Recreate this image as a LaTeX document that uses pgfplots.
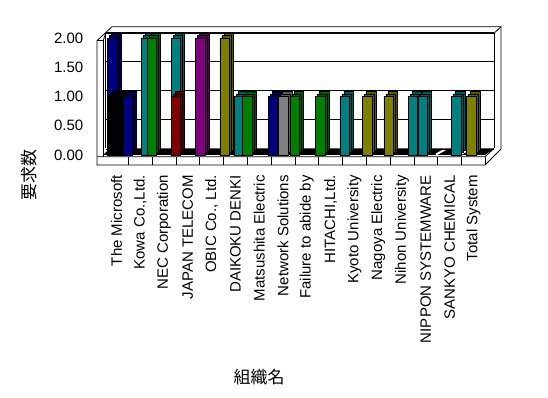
\documentclass[border=0pt]{standalone}
\usepackage{pgfplots}
\pgfplotsset{compat=1.18}
\usepackage{fontspec}
\setmainfont{Liberation Sans}
\newfontfamily\cjk{Noto Sans CJK JP}
\definecolor{cnavy}{HTML}{000080}
\definecolor{cteal}{HTML}{008080}
\definecolor{cgreen}{HTML}{008000}
\definecolor{cred}{HTML}{800000}
\definecolor{cpurple}{HTML}{800080}
\definecolor{colive}{HTML}{808000}
\definecolor{cgray}{HTML}{808080}
\pgfplotsset{b3d/.style={ybar, bar shift=0pt, bar width=9.5pt, fill=#1, draw=black, line width=0.7pt,
  preaction={fill=#1!70!black, draw=black, line width=0.7pt, transform canvas={shift={(4pt,5pt)}}},
  preaction={fill=#1!70!black, transform canvas={shift={(2pt,2.5pt)}}}}}
\begin{document}
\begin{tikzpicture}[x=1pt,y=1pt]
\path[use as bounding box] (-97,-243) rectangle (451,155);
% walls and floor
\filldraw[fill=white, draw=black, line width=0.8pt] (0,114.3) -- (15,128.3) -- (404,128.3) -- (404,6) -- (388,-10) -- (0,-10) -- cycle;
\draw[line width=0.8pt] (8.5,6.5) -- (8.5,121.7) -- (397,121.7) -- (397,6.5);
\draw[line width=0.8pt] (397,121.7) -- (404,128.3);
\draw[line width=0.8pt] (0,114.3) -- (6.3,114.3) -- (6.3,-1.7);
\draw[line width=0.8pt] (6.3,114.3) -- (8.5,121.7);
\draw[line width=0.8pt] (0,-1.7) -- (388,-1.7) -- (397,6.5);
\fill[black] (6,0) -- (388,0) -- (397,6.5) -- (13,6.5) -- cycle;
\foreach \k in {0,...,14} {
  \draw[white, line width=2pt] ({31.3+23.8*\k-1.6},0.5) -- ({31.3+23.8*\k+7.4},5.5);
}
\foreach \k in {0,...,15} {
  \draw[line width=0.8pt] ({31.3+23.8*\k},-1.7) -- ({31.3+23.8*\k},-10);
}
\begin{axis}[
  at={(0,0)}, anchor=south west,
  x=23.8pt, y=58.5pt,
  xmin=-0.815, xmax=15.5, ymin=0, ymax=2,
  clip=false,
  axis line style={draw=none},
  major tick length=0pt,
  xtick={0,...,15},
  xticklabels={The Microsoft, {Kowa Co.,Ltd.}, NEC Corporation, JAPAN TELECOM, {OBIC Co., Ltd.}, DAIKOKU DENKI, Matsushita Electric, Network Solutions, Failure to abide by, {HITACHI,Ltd.}, Kyoto University, Nagoya Electric, Nihon University, NIPPON SYSTEMWARE, SANKYO CHEMICAL, Total System},
  xticklabel style={rotate=90, anchor=east, inner sep=0pt, font=\fontsize{15}{18}\selectfont},
  xticklabel shift=20pt,
  ytick={0,0.5,1,1.5,2},
  yticklabel style={anchor=east, inner sep=0pt, font=\fontsize{15}{18}\selectfont, /pgf/number format/.cd, fixed, fixed zerofill, precision=2, assume math mode=true},
  yticklabel shift=13.5pt,
  ymajorgrids, grid style={black, line width=0.8pt, xshift=8.5pt, yshift=6pt},
]
\addplot[b3d=cnavy, bar width=10pt] coordinates {(-0.172,2)};
\addplot[b3d=black, bar width=16pt] coordinates {(-0.046,1)};
\addplot[b3d=cnavy] coordinates {(0.487,1) (6.571,1)};
\addplot[b3d=cteal] coordinates {(1.244,2) (2.498,2) (5.172,1) (9.590,1) (12.483,1) (12.861,1) (14.284,1)};
\addplot[b3d=cred] coordinates {(2.498,1)};
\addplot[b3d=cpurple] coordinates {(3.534,2)};
\addplot[b3d=colive] coordinates {(4.548,2) (10.550,1) (11.439,1) (14.908,1)};
\addplot[b3d=cgray] coordinates {(7.013,1)};
\addplot[b3d=cgreen] coordinates {(1.496,2) (5.496,1) (7.504,1) (8.576,1)};
\end{axis}
\node[rotate=90, inner sep=0pt, font=\fontsize{17}{20}\cjk] at (-68,-20) {要求数};
\node[inner sep=0pt, font=\fontsize{17}{20}\cjk] at (162,-222) {組織名};
\end{tikzpicture}
\end{document}
